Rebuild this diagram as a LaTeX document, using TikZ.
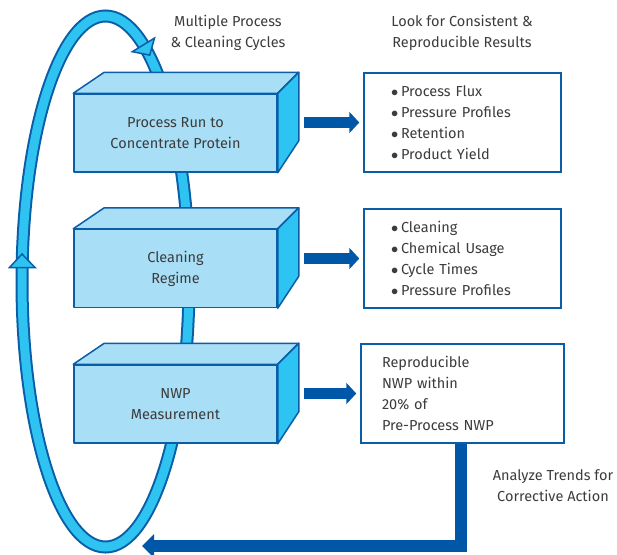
\documentclass[tikz,border=0pt]{standalone}
\usepackage{fontspec}
\setmainfont{Fira Sans}
\usetikzlibrary{arrows.meta}
\definecolor{dkblue}{HTML}{0A5EA8}
\definecolor{arrowblue}{HTML}{0057A8}
\definecolor{cyanband}{HTML}{2EC3F0}
\definecolor{lightfront}{HTML}{A8DEF6}
\definecolor{sideblue}{HTML}{2DC3F2}
\definecolor{txt}{HTML}{3C3C3C}
\newcommand{\blt}{\makebox[10pt][l]{$\bullet$}}
\begin{document}
\begin{tikzpicture}[x=1pt,y=-1pt,
  txtfont/.style={font=\fontsize{14.5}{21}\selectfont, text=txt},
  frontbox/.style={draw=dkblue, line width=1.5pt, fill=lightfront, minimum width=203pt, minimum height=78pt, inner sep=0pt, align=center, txtfont, line join=round},
  face/.style={draw=dkblue, line width=1.5pt, line join=round},
  listbox/.style={draw=dkblue, line width=1.5pt, fill=white, minimum height=99pt, inner ysep=0pt, align=left, txtfont},
  loopband/.style={line width=13pt, draw=dkblue},
  loopcore/.style={line width=9pt, draw=cyanband},
  loophead/.style={fill=cyanband, draw=dkblue, line width=1.5pt, line join=miter},
  bigarrow/.style={draw=arrowblue, line width=11pt, -{Triangle[width=21pt,length=10pt]}},
  backarrow/.style={draw=arrowblue, line width=12pt, line join=miter, -{Triangle[width=23pt,length=12pt]}},
  label/.style={txtfont, align=center}
]
\useasboundingbox (0,0) rectangle (617,554);
% loop
\draw[loopband] (105.5,281.5) ellipse [x radius=83.5pt, y radius=265.5pt];
\draw[loopcore] (105.5,281.5) ellipse [x radius=83.5pt, y radius=265.5pt];
\draw[loophead] (149.7,55.1) -- (154.5,38.1) -- (132.3,51.7) -- cycle;
\draw[loophead] (22,254) -- (35,267.5) -- (9.5,267.5) -- cycle;
% cubes
\foreach \nm/\cy/\tx in {b1/133/{Process Run to\\Concentrate Protein}, b2/268.5/{Cleaning\\Regime}, b3/404/{NWP\\Measurement}}{
  \node[frontbox] (\nm) at (175.5,\cy) {\tx};
  \draw[face, fill=lightfront] (\nm.north west) -- ++(31,-21) -- ([shift={(21,-21)}]\nm.north east) -- (\nm.north east) -- cycle;
  \draw[face, fill=sideblue] (\nm.north east) -- ++(21,-21) -- ([shift={(21,-32)}]\nm.south east) -- (\nm.south east) -- cycle;
}
% result boxes
\node[listbox, text width=143pt, inner xsep=27pt] (rA) at (462.5,122.5) {\blt Process Flux\\\blt Pressure Profiles\\\blt Retention\\\blt Product Yield};
\node[listbox, text width=143pt, inner xsep=27pt] (rB) at (462.5,258.5) {\blt Cleaning\\\blt Chemical Usage\\\blt Cycle Times\\\blt Pressure Profiles};
\node[listbox, text width=161pt, inner xsep=21pt] (rC) at (462.5,393.5) {Reproducible\\NWP within\\20\% of\\Pre-Process NWP};
% arrows
\draw[bigarrow, shorten <=26pt, shorten >=4pt] (b1.east |- rA.west) -- (rA.west);
\draw[bigarrow, shorten <=26pt, shorten >=4pt] (b2.east |- rB.west) -- (rB.west);
\draw[bigarrow, shorten <=26pt, shorten >=4pt] (b3.east |- rC.west) -- (rC.west);
\coordinate (loopin) at (142,546);
\draw[backarrow] ([xshift=-2pt]rC.south) |- (loopin);
% labels
\node[label] (l1) at (228,32.5) {Multiple Process\\\& Cleaning Cycles};
\node[label] (l2) at (462,32.5) {Look for Consistent \&\\Reproducible Results};
\node[label] (l3) at (553,485.5) {Analyze Trends for\\Corrective Action};
\end{tikzpicture}
\end{document}
